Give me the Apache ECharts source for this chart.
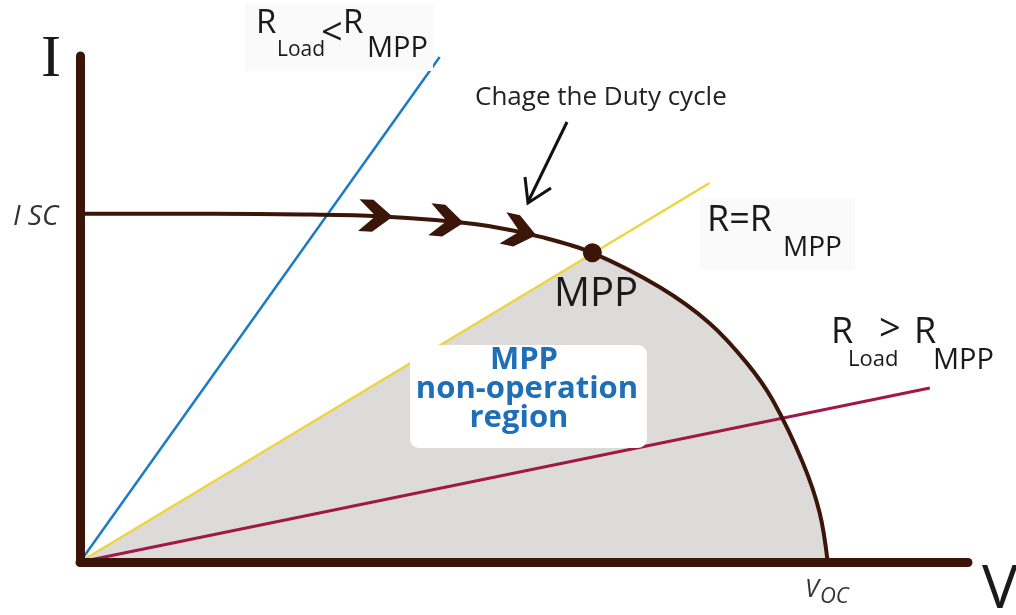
<!DOCTYPE html>
<html>
<head>
<meta charset="utf-8">
<script src="https://cdn.jsdelivr.net/npm/echarts@6/dist/echarts.min.js"></script>
<style>
  html, body { margin: 0; background: #fff; }
  #chart { width: 1016px; height: 615px; }
</style>
</head>
<body>
<div id="chart"></div>
<script>
// panel I-V curve, both axes in % of the drawn range
const curveV = [0, 15, 25, 33, 40, 46, 52, 57.7, 65.3, 70.9, 75.1, 78.0, 81.4, 83.3, 84.2];
const curveI = [68.8, 68.8, 68.7, 68.4, 67.6, 66.4, 64.2, 61.1, 54.3, 47.2, 39.3, 32.0, 19.6, 9.7, 0];
const mppIndex = 7;

// direction arrows sitting on the curve
const arrowV = [33.3, 41.3, 49.5];
const arrowI = [68.4, 67.4, 65.3];

// load lines (through origin)
const loadLowV = [0, 40.5], loadLowI = [0, 99.8];   // R_Load < R_MPP
const loadMppV = [0, 70.9], loadMppI = [0, 74.9];   // R = R_MPP
const loadHighV = [0, 95.7], loadHighI = [0, 34.4]; // R_Load > R_MPP

const brown = '#3b1608';
const font = '"Open Sans", "Noto Sans", sans-serif';
const pairs = (xs, ys) => xs.map((x, i) => [x, ys[i]]);
const curve = pairs(curveV, curveI);

const chart = echarts.init(document.getElementById('chart'));

function txt(x, y, text, size, extra) {
  return {
    type: 'text', x: x, y: y, z: 20,
    style: Object.assign({
      text: text,
      fontSize: size,
      fontFamily: font,
      fill: '#1a1a1a',
      align: 'left',
      verticalAlign: 'middle'
    }, extra || {})
  };
}

const chevron = 'path://M0,0 L14,0 L34,16 L14,32 L0,32 L17,16 Z';
const axisCommon = {
  type: 'value', min: 0, max: 100, z: 10,
  axisLine: { show: true, lineStyle: { color: brown, width: 9, cap: 'round' } },
  axisTick: { show: false }, axisLabel: { show: false }, splitLine: { show: false }
};

const option = {
  animation: false,
  backgroundColor: '#fff',
  grid: { left: 80, right: 48, top: 56, bottom: 53 },
  xAxis: axisCommon,
  yAxis: axisCommon,
  series: [
    // grey area under the whole curve
    {
      type: 'line', data: curve, smooth: 0.35, showSymbol: false, silent: true, z: 1,
      lineStyle: { width: 0 },
      areaStyle: { color: '#dddbda', opacity: 1 }
    },
    // white above the R = R_MPP line, so only the non-operation region stays grey
    {
      type: 'line', data: [[0, 0], curve[mppIndex]], showSymbol: false, silent: true, z: 2,
      lineStyle: { width: 0 },
      areaStyle: { color: '#fff', opacity: 1, origin: 'end' }
    },
    {
      type: 'line', data: pairs(loadLowV, loadLowI), showSymbol: false, z: 3,
      lineStyle: { color: '#1b7cc3', width: 2.5 }
    },
    {
      type: 'line', data: pairs(loadMppV, loadMppI), showSymbol: false, z: 3,
      lineStyle: { color: '#efd43c', width: 2.5 }
    },
    {
      type: 'line', data: pairs(loadHighV, loadHighI), showSymbol: false, z: 3,
      lineStyle: { color: '#a01848', width: 3 }
    },
    {
      type: 'line', data: curve, smooth: 0.35, showSymbol: false, z: 4,
      lineStyle: { color: brown, width: 4 }
    },
    {
      id: 'arrows', type: 'scatter', data: pairs(arrowV, arrowI), z: 5,
      symbol: chevron, symbolSize: [34, 32],
      itemStyle: { color: brown, opacity: 1 }
    },
    {
      type: 'scatter', data: [curve[mppIndex]], z: 6,
      symbolSize: 19, itemStyle: { color: brown, opacity: 1 }
    }
  ],
  graphic: [
    // axis names
    txt(51, 60, 'I', 60, { fontFamily: '"Liberation Serif", serif', align: 'center' }),
    txt(982, 591, 'V', 60),
    txt(13, 217, 'I SC', 28, { fontStyle: 'italic', fill: '#333' }),
    txt(805, 590, 'V', 25, { fontStyle: 'italic', fill: '#333' }),
    txt(820, 597, 'OC', 22, { fontStyle: 'italic', fill: '#333' }),

    // R_Load < R_MPP
    { type: 'rect', z: 10, shape: { x: 245, y: 3, width: 188, height: 68 }, style: { fill: '#fafafa' } },
    txt(256, 24, 'R', 33),
    txt(277, 50, 'Load', 21),
    txt(321, 34, '<', 38),
    txt(343, 24, 'R', 33),
    txt(367, 49, 'MPP', 29),

    // R = R_MPP
    { type: 'rect', z: 10, shape: { x: 700, y: 198, width: 155, height: 72 }, style: { fill: '#fafafa' } },
    txt(707, 221, 'R=R', 36),
    txt(783, 248, 'MPP', 28),

    // R_Load > R_MPP
    txt(831, 333, 'R', 36),
    txt(848, 360, 'Load', 22),
    txt(879, 330, '>', 38),
    txt(914, 333, 'R', 36),
    txt(933, 361, 'MPP', 29),

    // MPP point name
    txt(554, 295, 'MPP', 40),

    // duty cycle note with arrow
    txt(475, 98, 'Chage the Duty cycle', 26, { fill: '#222' }),
    { type: 'polyline', z: 20, shape: { points: [[567, 122], [528, 202]] }, style: { stroke: '#111', lineWidth: 3, fill: null } },
    { type: 'polyline', z: 20, shape: { points: [[525, 177], [528, 203], [551, 188]] }, style: { stroke: '#111', lineWidth: 3, fill: null } },

    // non-operation region box
    { type: 'rect', z: 15, shape: { x: 410, y: 345, width: 237, height: 103, r: 9 }, style: { fill: '#fff' } },
    txt(524, 360, 'MPP', 31, { fontWeight: 'bold', fill: '#1e6fb8', align: 'center' }),
    txt(527, 389, 'non-operation', 31, { fontWeight: 'bold', fill: '#1e6fb8', align: 'center' }),
    txt(519, 418, 'region', 31, { fontWeight: 'bold', fill: '#1e6fb8', align: 'center' })
  ]
};

chart.setOption(option);

// turn each chevron along the curve's direction on screen
function curveAt(v) {
  for (let i = 1; i < curveV.length; i++) {
    if (v <= curveV[i]) {
      const t = (v - curveV[i - 1]) / (curveV[i] - curveV[i - 1]);
      return curveI[i - 1] + t * (curveI[i] - curveI[i - 1]);
    }
  }
  return curveI[curveI.length - 1];
}
const arrowData = arrowV.map((v, i) => {
  const a = chart.convertToPixel({ gridIndex: 0 }, [v - 3, curveAt(v - 3)]);
  const b = chart.convertToPixel({ gridIndex: 0 }, [v + 3, curveAt(v + 3)]);
  const deg = Math.atan2(b[1] - a[1], b[0] - a[0]) * 180 / Math.PI;
  return { value: [v, arrowI[i]], symbolRotate: -deg };
});
chart.setOption({ series: [{ id: 'arrows', data: arrowData }] });
</script>
</body>
</html>
